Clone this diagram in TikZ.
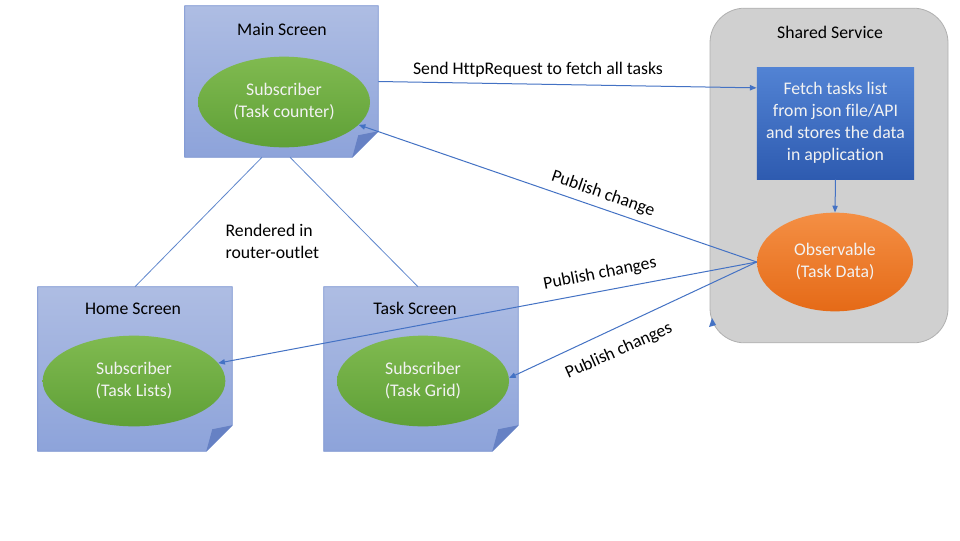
\documentclass[tikz,border=0pt]{standalone}
\usepackage{fontspec}
\setmainfont{Carlito}[Ligatures={NoCommon}]
\usetikzlibrary{shapes.geometric,arrows.meta,calc}
\definecolor{boxtop}{HTML}{AEBDE3}
\definecolor{boxbot}{HTML}{8DA3DA}
\definecolor{boxline}{HTML}{7E97D2}
\definecolor{foldc}{HTML}{6681C4}
\definecolor{greentop}{HTML}{80BA50}
\definecolor{greenbot}{HTML}{5FA037}
\definecolor{bluetop}{HTML}{5283D4}
\definecolor{bluebot}{HTML}{2E5BB0}
\definecolor{orgtop}{HTML}{F48F44}
\definecolor{orgbot}{HTML}{E56A17}
\definecolor{grayfill}{HTML}{D0D0D0}
\definecolor{grayline}{HTML}{B0B0B0}
\definecolor{arrowc}{HTML}{4472C4}
\definecolor{lightt}{HTML}{F2F2F2}
\tikzset{
  every node/.style={font=\fontsize{13.3}{16.5}\selectfont},
  screenbox/.style={rectangle, inner sep=0pt},
  subell/.style={ellipse, top color=greentop, bottom color=greenbot, text=lightt, inner sep=0pt, align=center, draw=none},
  conn/.style={draw=arrowc, line width=0.75pt, -{Triangle[length=5pt,width=4pt]}},
  plainline/.style={draw=arrowc!85, line width=0.6pt},
  lbl/.style={text=black, inner sep=1pt},
}
\newcommand{\foldbox}[1]{%
  \shade[top color=boxtop, bottom color=boxbot, draw=boxline, line width=0.5pt]
    (#1.north west) -- (#1.north east) -- ($(#1.south east)+(0,-26)$) -- ($(#1.south east)+(-26,0)$) -- (#1.south west) -- cycle;
  \fill[foldc] ($(#1.south east)+(0,-26)$) -- ($(#1.south east)+(-26,0)$) -- ($(#1.south east)+(-20,-22)$) -- cycle;
}
\begin{document}
\begin{tikzpicture}[x=0.75pt,y=-0.75pt]
\useasboundingbox (0,0) rectangle (960,540);
\fill[white] (0,0) rectangle (960,540);

% shared service container
\node[draw=grayline, fill=grayfill, rounded corners=26pt, minimum width=178.5pt, minimum height=251pt, line width=0.6pt] (shared) at (829,175.5) {};
\node[lbl] (sharedt) at (830,32) {Shared Service};

% screen boxes
\node[screenbox, minimum width=144.75pt, minimum height=113.25pt] (mainbox) at (281.5,81.5) {};
\node[screenbox, minimum width=145.5pt, minimum height=123pt] (homebox) at (135,369) {};
\node[screenbox, minimum width=145.5pt, minimum height=123pt] (taskbox) at (421,369) {};
\foldbox{mainbox}
\foldbox{homebox}
\foldbox{taskbox}

\node[lbl] (maint) at (282,29) {Main Screen};
\node[lbl] (homet) at (133,309) {Home Screen};
\node[lbl] (taskt) at (415,308) {Task Screen};

% subscribers
\node[subell, minimum width=129pt, minimum height=68pt] (mainsub) at (284,102) {Subscriber\\(Task counter)};
\node[subell, minimum width=137pt, minimum height=68pt] (homesub) at (134,381) {Subscriber\\(Task Lists)};
\node[subell, minimum width=129pt, minimum height=68pt] (tasksub) at (423,381) {Subscriber\\(Task Grid)};

% fetch box
\node[rectangle, top color=bluetop, bottom color=bluebot, text=lightt, minimum width=118pt, minimum height=84pt, align=center, inner sep=0pt] (fetch) at (835.5,123) {Fetch tasks list\\from json file/API\\and stores the data\\in application};

% observable
\node[ellipse, top color=orgtop, bottom color=orgbot, text=lightt, minimum width=117pt, minimum height=74pt, align=center, inner sep=0pt] (obs) at (835,262) {Observable\\(Task Data)};

% connectors
\draw[conn] (mainbox.east) -- (fetch.156);
\node[lbl] (httplbl) at (538,70) {Send HttpRequest to fetch all tasks};
\draw[conn] (fetch.south) -- (obs.north);
\draw[conn] (obs.west) -- (mainsub.-17);
\draw[conn] (obs.west) -- (homesub.12);
\draw[conn] (obs.west) -- (tasksub.2);

\draw[plainline] ($(mainbox.south)+(-19.5,0)$) -- (homebox.north);
\draw[plainline] ($(mainbox.south)+(8.5,0)$) -- ($(taskbox.north)+(-3,0)$);
\node[lbl, align=left, anchor=west] (rendered) at (224,241) {Rendered in\\router-outlet};

\node[lbl, rotate=-19] (pub1) at (603,194) {Publish change};
\node[lbl, rotate=11] (pub2) at (600,274) {Publish changes};
\node[lbl, rotate=24] (pub3) at (619,351) {Publish changes};

% small stray arrow tip
\fill[arrowc] (709,327) -- (712,318) -- (716,325) -- cycle;
\end{tikzpicture}
\end{document}
